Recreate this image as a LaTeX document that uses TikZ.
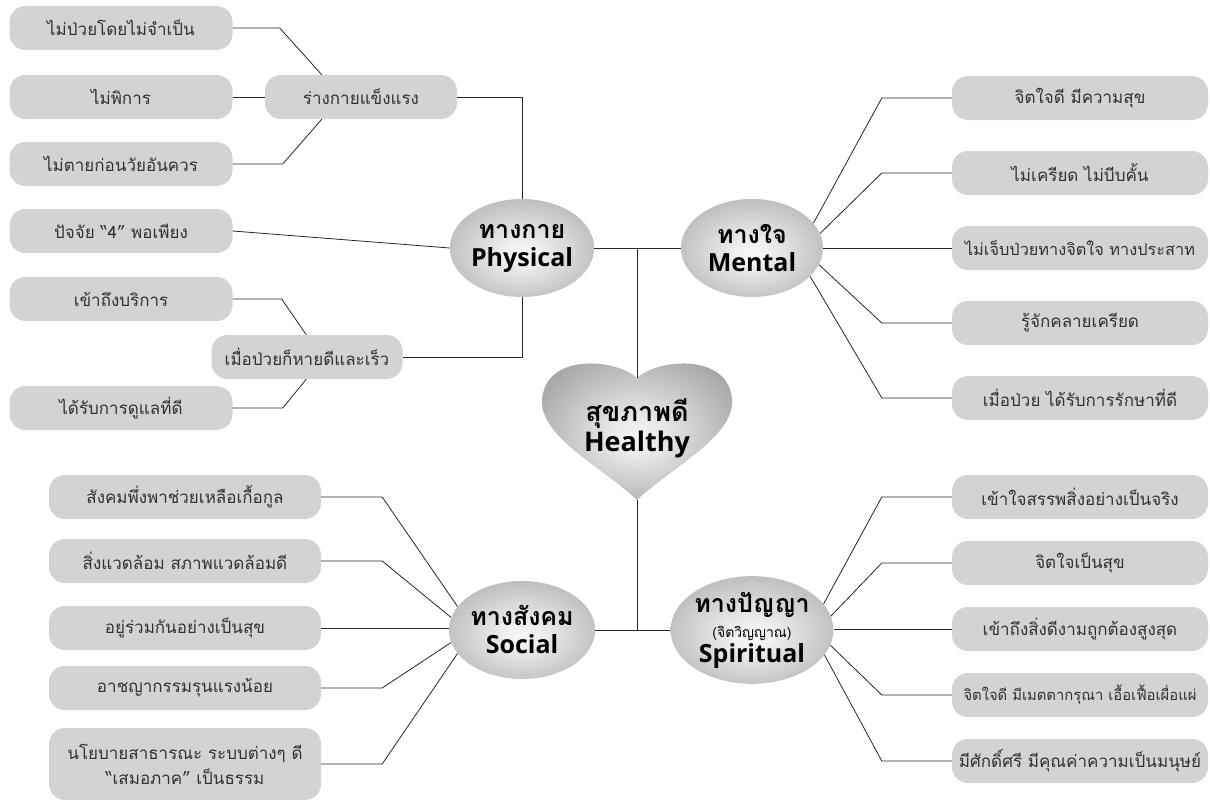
\documentclass[tikz,border=0pt]{standalone}
\usepackage{fontspec}
\setmainfont{Loma}[Script=Thai]
\newfontfamily\latinbold{Open Sans}
\usetikzlibrary{shapes.geometric, positioning, calc}
\definecolor{boxgray}{RGB}{211,211,213}
\definecolor{inkgray}{RGB}{50,50,52}
\pgfdeclareradialshading{dimshade}{\pgfpoint{0bp}{-3bp}}{color(0bp)=(white!97!black); color(6bp)=(white!94!black); color(42bp)=(black!40); color(50bp)=(black!43)}
\pgfdeclareradialshading{heartshade}{\pgfpoint{0bp}{-4bp}}{color(0bp)=(white!96!black); color(6bp)=(white!92!black); color(40bp)=(black!48); color(50bp)=(black!50)}

\begin{document}
\begin{tikzpicture}[x=1pt, y=-1pt,
    itembox/.style={fill=boxgray, rounded corners=16pt, minimum height=44pt, inner sep=2pt, align=center, text=inkgray, font=\fontsize{17}{25}\selectfont},
    itemleft/.style={itembox, minimum width=223pt},
    itemsoc/.style={itembox, minimum width=272pt},
    itemright/.style={itembox, minimum width=256pt},
    dimnode/.style={ellipse, minimum width=142pt, minimum height=98pt, inner sep=0pt, shading=dimshade, align=center, font=\bfseries\fontsize{25}{28}\selectfont},
    conn/.style={line width=0.8pt, black!85}
]
\useasboundingbox (0,0) rectangle (1210,800);

% the four dimensions
\node[dimnode] (phys) at (522,248) {ทางกาย\\{\latinbold Physical}};
\node[dimnode] (ment) at (752,248) {ทางใจ\\{\latinbold Mental}};
\node[dimnode] (soc) at (522,630) {ทางสังคม\\{\latinbold Social}};
\node[dimnode] (spir) at (752,630) {ทางปัญญา\\[-3pt]{\mdseries\fontsize{14}{14}\selectfont(จิตวิญญาณ)}\\[-3pt]{\latinbold Spiritual}};

% heart in the middle
\coordinate (notch) at (637,378);
\coordinate (tip) at (637,500);
\shade[shading=heartshade]
  (notch) .. controls (615,358) and (545,353) .. (542,400)
  .. controls (540,437) and (602,467) .. (tip)
  .. controls (672,467) and (734,437) .. (732,400)
  .. controls (729,353) and (659,358) .. (notch) -- cycle;
\node[font=\bfseries\fontsize{27}{30}\selectfont, align=center] (healthy) at (637,428) {สุขภาพดี\\{\latinbold Healthy}};

\coordinate (jtop) at (637,248);
\coordinate (jbot) at (637,630);
\draw[conn] (phys.east) -- (ment.west);
\draw[conn] (soc.east) -- (spir.west);
\draw[conn] (jtop) -- (notch);
\draw[conn] (tip) -- (jbot);

% physical
\node[itembox, minimum width=192pt] (strong) at (361,97) {ร่างกายแข็งแรง};
\node[itemleft] (a1) at (121,28) {ไม่ป่วยโดยไม่จำเป็น};
\node[itemleft] (a2) at (121,97) {ไม่พิการ};
\node[itemleft] (a3) at (121,164) {ไม่ตายก่อนวัยอันควร};
\node[itemleft] (four) at (121,231) {ปัจจัย “4” พอเพียง};
\node[itemleft] (b1) at (121,299) {เข้าถึงบริการ};
\node[itembox, minimum width=191pt] (heal) at (307,357) {เมื่อป่วยก็หายดีและเร็ว};
\node[itemleft] (b2) at (121,408) {ได้รับการดูแลที่ดี};

\draw[conn] (a1.east) -- ++(47,0) -- ([xshift=57]strong.north west);
\draw[conn] (a2.east) -- (strong.west);
\draw[conn] (a3.east) -- ++(50,0) -- ([xshift=57]strong.south west);
\draw[conn] (strong.east) -| (phys.north);
\draw[conn] (four.east) -- (phys.west);
\draw[conn] (b1.east) -- ++(49,0) -- ([xshift=95]heal.north west);
\draw[conn] (b2.east) -- ++(50,0) -- ([xshift=95]heal.south west);
\draw[conn] (heal.east) -| (phys.south);

% mental
\node[itemright] (m1) at (1080,98) {จิตใจดี มีความสุข};
\node[itemright] (m2) at (1080,173) {ไม่เครียด ไม่บีบคั้น};
\node[itemright, font=\fontsize{16.3}{25}\selectfont] (m3) at (1080,248) {ไม่เจ็บป่วยทางจิตใจ ทางประสาท};
\node[itemright] (m4) at (1080,323) {รู้จักคลายเครียด};
\node[itemright] (m5) at (1080,398) {เมื่อป่วย ได้รับการรักษาที่ดี};

\draw[conn] (m1.west) -- ++(-70,0) -- (ment.22);
\draw[conn] (m2.west) -- ++(-70,0) -- (ment.12);
\draw[conn] (m3.west) -- (ment.east);
\draw[conn] (m4.west) -- ++(-70,0) -- (ment.-14);
\draw[conn] (m5.west) -- ++(-70,0) -- (ment.-26);

% social
\node[itemsoc] (s1) at (185,497) {สังคมพึ่งพาช่วยเหลือเกื้อกูล};
\node[itemsoc] (s2) at (185,561) {สิ่งแวดล้อม สภาพแวดล้อมดี};
\node[itemsoc] (s3) at (185,628) {อยู่ร่วมกันอย่างเป็นสุข};
\node[itemsoc] (s4) at (185,688) {อาชญากรรมรุนแรงน้อย};
\node[itemsoc, minimum height=72pt] (s5) at (185,764) {นโยบายสาธารณะ ระบบต่างๆ ดี\\“เสมอภาค” เป็นธรรม};

\draw[conn] (s1.east) -- ++(61,0) -- (soc.160);
\draw[conn] (s2.east) -- ++(61,0) -- (soc.170);
\draw[conn] (s3.east) -- (s3.east -| soc.west);
\draw[conn] (s4.east) -- ++(61,0) -- (soc.190);
\draw[conn] (s5.east) -- ++(61,0) -- (soc.200);

% spiritual
\node[itemright] (p1) at (1080,497) {เข้าใจสรรพสิ่งอย่างเป็นจริง};
\node[itemright] (p2) at (1080,563) {จิตใจเป็นสุข};
\node[itemright] (p3) at (1080,629) {เข้าถึงสิ่งดีงามถูกต้องสูงสุด};
\node[itemright, font=\fontsize{14.8}{25}\selectfont] (p4) at (1080,695) {จิตใจดี มีเมตตากรุณา เอื้อเฟื้อเผื่อแผ่};
\node[itemright] (p5) at (1080,761) {มีศักดิ์ศรี มีคุณค่าความเป็นมนุษย์};

\draw[conn] (p1.west) -- ++(-70,0) -- (spir.20);
\draw[conn] (p2.west) -- ++(-70,0) -- (spir.10);
\draw[conn] (p3.west) -- (p3.west -| spir.east);
\draw[conn] (p4.west) -- ++(-70,0) -- (spir.-11);
\draw[conn] (p5.west) -- ++(-70,0) -- (spir.-19);
\end{tikzpicture}
\end{document}
